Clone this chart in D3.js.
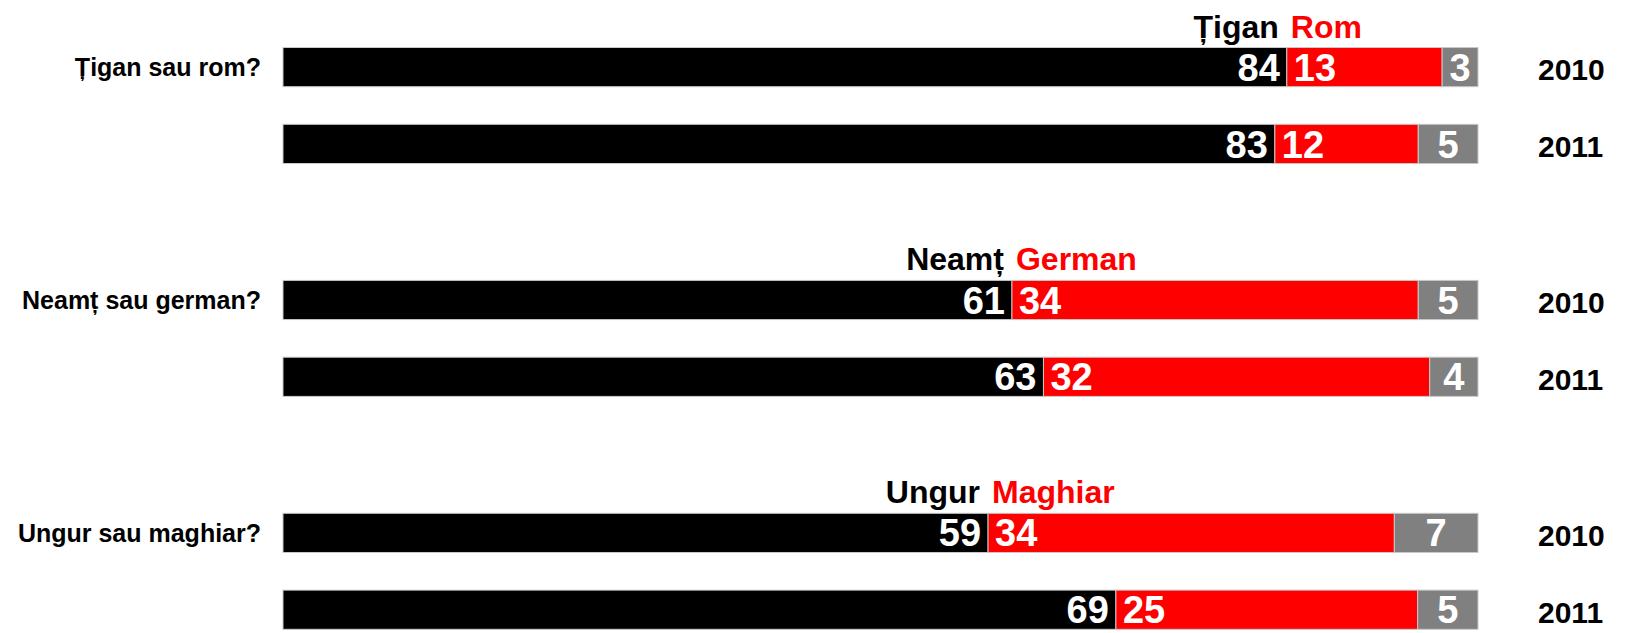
<!DOCTYPE html>
<html>
<head>
<meta charset="utf-8">
<script src="https://cdn.jsdelivr.net/npm/d3@7"></script>
<style>
  body { margin: 0; background: #fff; }
  svg { display: block; font-family: "Liberation Sans", Arial, sans-serif; font-weight: bold; }
</style>
</head>
<body>
<svg></svg>
<script>
// date
var questions = ["Țigan sau rom?", "Neamț sau german?", "Ungur sau maghiar?"];
var oldNames = ["Țigan", "Neamț", "Ungur"];
var newNames = ["Rom", "German", "Maghiar"];
var years = ["2010", "2011"];

// procente, în ordinea: întrebare x an
var oldTerm = [84, 83, 61, 63, 59, 69];
var newTerm = [13, 12, 34, 32, 34, 25];
var other = [3, 5, 5, 4, 7, 5];

var colors = ["#000000", "#ff0000", "#808080"];
var keys = ["old", "new", "other"];

var svgWidth = 1626, svgHeight = 633;

var svg = d3.select("svg")
    .attr("width", svgWidth)
    .attr("height", svgHeight);

// rânduri
var rows = [];
questions.forEach(function(q, qi) {
    years.forEach(function(y, yi) {
        var i = qi * years.length + yi;
        rows.push({ q: q, qi: qi, year: y, old: oldTerm[i], "new": newTerm[i], other: other[i] });
    });
});

var series = d3.stack().keys(keys).offset(d3.stackOffsetExpand)(rows);

// scale
var x = d3.scaleLinear().domain([0, 1]).range([283, 1478]);
var yGroup = d3.scalePoint().domain(questions).range([47.5, 513.3]);
var yYear = d3.scaleBand().domain(years).range([0, 116]).paddingInner(0.49);
var bh = yYear.bandwidth();

function rowY(d) { return yGroup(d.q) + yYear(d.year); }

// bare
var layers = svg.selectAll("g.layer")
    .data(series)
    .enter()
    .append("g")
    .attr("class", "layer")
    .attr("fill", function(d, i) { return colors[i]; });

layers.selectAll("rect")
    .data(function(d) { return d; })
    .enter()
    .append("rect")
    .attr("x", function(d) { return x(d[0]); })
    .attr("width", function(d) { return x(d[1]) - x(d[0]); })
    .attr("y", function(d) { return rowY(d.data); })
    .attr("height", bh)
    .attr("stroke", "#c8c8c8")
    .attr("stroke-width", 1);

// etichete valori
layers.selectAll("text")
    .data(function(d) { return d.map(function(p) { return { p: p, key: d.key }; }); })
    .enter()
    .append("text")
    .attr("fill", "#fff")
    .attr("font-size", 38)
    .attr("x", function(d) {
        if (d.key === "old") return x(d.p[1]) - 7;
        if (d.key === "new") return x(d.p[0]) + 7;
        return (x(d.p[0]) + x(d.p[1])) / 2;
    })
    .attr("text-anchor", function(d) {
        if (d.key === "old") return "end";
        if (d.key === "new") return "start";
        return "middle";
    })
    .attr("y", function(d) { return rowY(d.p.data) + bh / 2 + 13.6; })
    .text(function(d) { return d.p.data[d.key]; });

// titluri de grup deasupra barei din 2010
var firstRows = rows.filter(function(r) { return r.year === years[0]; });
var firstSplit = series[0].filter(function(p) { return p.data.year === years[0]; });

svg.selectAll("text.oldName")
    .data(firstSplit)
    .enter()
    .append("text")
    .attr("class", "oldName")
    .attr("font-size", 32)
    .attr("text-anchor", "end")
    .attr("x", function(d) { return x(d[1]) - 8; })
    .attr("y", function(d) { return rowY(d.data) - 10; })
    .text(function(d) { return oldNames[d.data.qi]; });

svg.selectAll("text.newName")
    .data(firstSplit)
    .enter()
    .append("text")
    .attr("class", "newName")
    .attr("font-size", 32)
    .attr("fill", "#ff0000")
    .attr("x", function(d) { return x(d[1]) + 4; })
    .attr("y", function(d) { return rowY(d.data) - 10; })
    .text(function(d) { return newNames[d.data.qi]; });

// întrebări în stânga
svg.selectAll("text.question")
    .data(firstRows)
    .enter()
    .append("text")
    .attr("class", "question")
    .attr("font-size", 25)
    .attr("text-anchor", "end")
    .attr("x", 261)
    .attr("y", function(d) { return rowY(d) + bh / 2 + 9; })
    .text(function(d) { return d.q; });

// ani în dreapta
svg.selectAll("text.year")
    .data(rows)
    .enter()
    .append("text")
    .attr("class", "year")
    .attr("font-size", 30)
    .attr("x", 1538)
    .attr("y", function(d) { return rowY(d) + bh / 2 + 13; })
    .text(function(d) { return d.year; });
</script>
</body>
</html>
